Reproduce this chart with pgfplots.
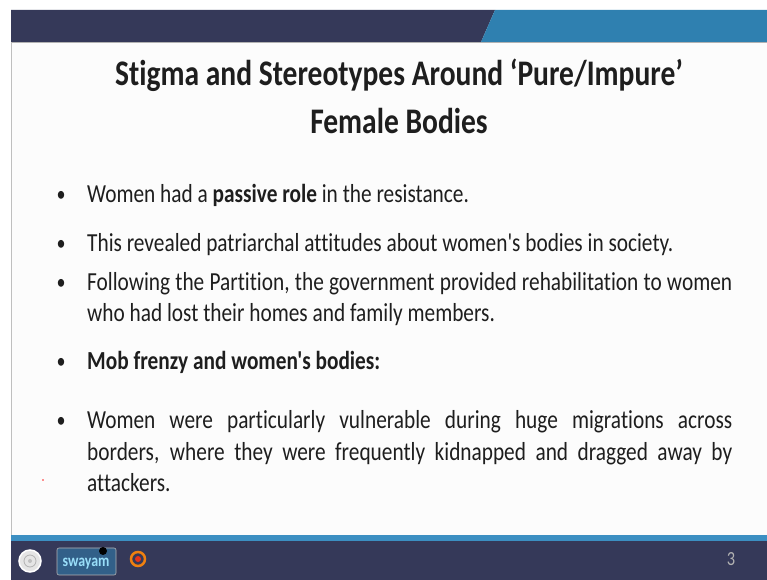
\documentclass[border=0pt]{standalone}
\usepackage{pgfplots}
\pgfplotsset{compat=1.18}
\usepackage{fontspec}
\setmainfont{Carlito}[FakeStretch=0.82, Ligatures={TeXOff,CommonOff}]
\definecolor{navy}{HTML}{353959}
\definecolor{sblue}{HTML}{2F80B0}
\definecolor{lblue}{HTML}{3C8FC2}
\definecolor{slidebg}{HTML}{FCFCFC}
\definecolor{txt}{HTML}{1E1E1E}
\newcommand{\bodyfont}{\fontsize{26bp}{32bp}\selectfont}
\newcommand{\bulfont}{\fontsize{22bp}{26bp}\selectfont}
\newcommand{\titlefont}{\fontsize{36bp}{40bp}\selectfont\bfseries}
\begin{document}
\begin{tikzpicture}
\begin{axis}[
  scale only axis, width=767bp, height=580bp,
  xmin=0, xmax=767, ymin=0, ymax=580, y dir=reverse,
  hide axis, clip=true,
]
% backgrounds
\addplot[fill=white, draw=none] coordinates {(0,0) (767,0) (767,580) (0,580)} -- cycle;
\addplot[fill=slidebg, draw=none] coordinates {(11,42) (767,42) (767,536) (11,536)} -- cycle;
% top bars
\addplot[fill=navy, draw=none] coordinates {(11,10) (495,10) (481,42) (11,42)} -- cycle;
\addplot[fill=sblue, draw=none] coordinates {(495,10) (767,10) (767,42) (481,42)} -- cycle;
\addplot[draw=gray!60, line width=1bp] coordinates {(11,42.5) (767,42.5)};
% left border
\addplot[draw=gray!50, line width=1bp] coordinates {(11,42) (11,536)};
% bottom bars
\addplot[fill=lblue, draw=none] coordinates {(11,535) (767,535) (767,541) (11,541)} -- cycle;
\addplot[fill=navy, draw=none] coordinates {(11,541) (767,541) (767,580) (11,580)} -- cycle;
% logos (approximate)
\fill[gray!20, draw=white, line width=1.5bp] (axis cs:30,561) circle[radius=11];
\draw[gray!60, line width=0.8bp] (axis cs:30,561) circle[radius=6];
\fill[gray!50] (axis cs:30,561) circle[radius=2];
\filldraw[fill=sblue!55!navy, draw=gray!60, line width=0.6bp, rounded corners=2bp] (axis cs:57,548) rectangle (axis cs:116,575);
\node[text=cyan!40!white, font=\fontsize{17bp}{18bp}\selectfont\bfseries] at (axis cs:86,564) {swayam};
\fill[black] (axis cs:103,551) circle[radius=4];
\draw[orange!75!brown, line width=2.5bp] (axis cs:138,559) circle[radius=7];
\fill[red!60!brown] (axis cs:138,559) circle[radius=3];
\node[text=gray!60, font=\fontsize{20bp}{22bp}\selectfont, anchor=base] at (axis cs:731,566) {3};
% red dot
\addplot[only marks, mark=*, mark size=0.6bp, color=red!70] coordinates {(43,480)};
% title
\node[text=txt, font=\titlefont, anchor=base] at (axis cs:399,86) {Stigma and Stereotypes Around ‘Pure/Impure’};
\node[text=txt, font=\titlefont, anchor=base] at (axis cs:399,134) {Female Bodies};
% bullets
\node[text=txt, font=\bulfont, anchor=base] at (axis cs:61,202) {•};
\node[text=txt, font=\bulfont, anchor=base] at (axis cs:61,251) {•};
\node[text=txt, font=\bulfont, anchor=base] at (axis cs:61,290) {•};
\node[text=txt, font=\bulfont, anchor=base] at (axis cs:61,369) {•};
\node[text=txt, font=\bulfont, anchor=base] at (axis cs:61,428) {•};
\node[text=txt, font=\bodyfont, anchor=base west, inner sep=0pt] at (axis cs:87,203) {Women had a \textbf{passive role} in the resistance.};
\node[text=txt, font=\bodyfont, anchor=base west, inner sep=0pt] at (axis cs:87,252) {This revealed patriarchal attitudes about women's bodies in society.};
\node[text=txt, font=\bodyfont, anchor=base west, inner sep=0pt] at (axis cs:87,291) {\makebox[645bp][s]{Following the Partition, the government provided rehabilitation to women}};
\node[text=txt, font=\bodyfont, anchor=base west, inner sep=0pt] at (axis cs:87,322) {who had lost their homes and family members.};
\node[text=txt, font=\bodyfont, anchor=base west, inner sep=0pt] at (axis cs:87,370) {\textbf{Mob frenzy and women's bodies:}};
\node[text=txt, font=\bodyfont, anchor=base west, inner sep=0pt] at (axis cs:87,429) {\makebox[645bp][s]{Women were particularly vulnerable during huge migrations across}};
\node[text=txt, font=\bodyfont, anchor=base west, inner sep=0pt] at (axis cs:87,461) {\makebox[645bp][s]{borders, where they were frequently kidnapped and dragged away by}};
\node[text=txt, font=\bodyfont, anchor=base west, inner sep=0pt] at (axis cs:87,492) {attackers.};
\end{axis}
\end{tikzpicture}
\end{document}
